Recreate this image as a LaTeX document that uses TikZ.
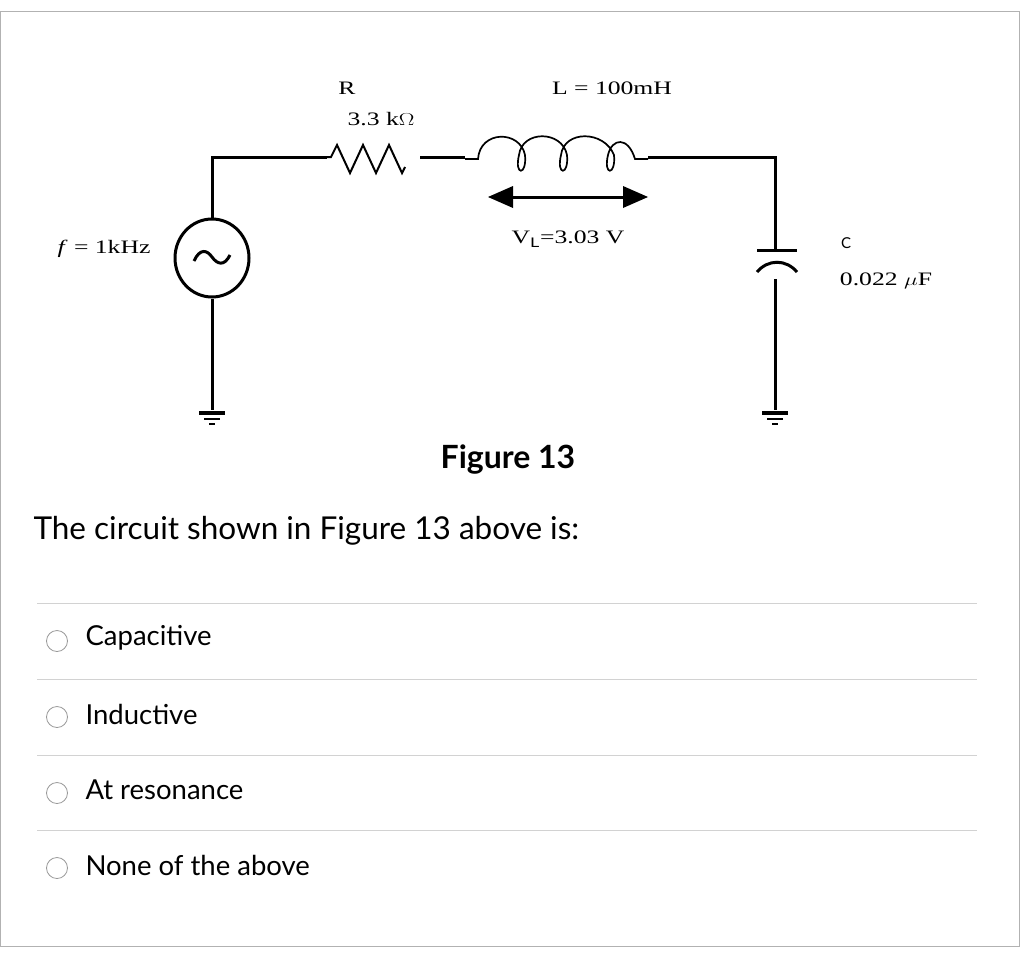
\documentclass[tikz,border=0pt]{standalone}
\usetikzlibrary{shapes.geometric}
\usepackage{fontspec}
\setmainfont{Lato}
\newfontfamily\ser{Liberation Serif}
\newcommand{\wide}[1]{\scalebox{1.35}[1]{#1}}
\begin{document}
\begin{tikzpicture}[x=1pt,y=-1pt,
  w/.style={line width=3pt},
  ct/.style={font=\ser\fontsize{19}{21}\selectfont},
  opt/.style={font=\fontsize{27.5}{30}\selectfont,anchor=west},
  radio/.style={circle,draw=gray!80,line width=0.8pt,minimum size=21pt,inner sep=0pt,fill=white}]
\useasboundingbox (0,0) rectangle (1024,958);
\draw[gray!60,line width=1pt] (0.5,12) -- (1019,12) -- (1019,946) -- (0.5,946) -- cycle;
% source
\node[draw,ellipse,line width=3pt,minimum width=74pt,minimum height=78pt,inner sep=0] (src) at (212,258) {};
\draw[line width=3pt] (194,261) .. controls (200,248) and (207,250) .. (212,257) .. controls (217,264) and (224,267) .. (230,255);
\coordinate (tl) at (212,157);
\coordinate (r1) at (327,157);
\coordinate (tr) at (775,157);
\coordinate (cp1) at (775,250);
\coordinate (g1) at (212,410);
\coordinate (g2) at (775,410);
\draw[w] (src.north) -- (tl) -- (r1);
\draw[line width=2pt] (r1) -- ++(4,0) -- ++(6,-12) -- ++(13,28) -- ++(13,-28) -- ++(13,28) -- ++(13,-28) -- ++(13,28) -- ++(3,-6);
\draw[w] (420,157) -- (465,157);
\draw[line width=1.7pt] (465,159) -- (478,159) .. controls (480,130) and (520,130) .. (525,155) .. controls (527,176) and (514,176) .. (519,155)
  .. controls (522,130) and (562,130) .. (567,155) .. controls (569,176) and (556,176) .. (561,155)
  .. controls (564,130) and (604,130) .. (614,155) .. controls (616,176) and (603,176) .. (608,155)
  .. controls (612,138) and (628,136) .. (635,159) -- (648,159);
\draw[w] (648,157) -- (tr) -- (cp1);
\draw[w] (757,250) -- (797,250);
\draw[w] (757,272) .. controls (768,259) and (786,259) .. (797,272);
\draw[w] (775,279) -- (g2);
\draw[w] (src.south) -- (g1);
\foreach \g in {g1,g2}{
  \draw[line width=3.5pt] ([shift={(-13,3)}]\g) -- ++(26,0);
  \draw[line width=2.5pt] ([shift={(-8,9)}]\g) -- ++(16,0);
  \draw[line width=2pt] ([shift={(-3,14)}]\g) -- ++(6,0);
}
% arrow
\coordinate (a1) at (488,197);
\coordinate (a2) at (648,197);
\draw[line width=3pt] (505,197) -- (632,197);
\fill (a1) -- (513,186) -- (513,208) -- cycle;
\fill (a2) -- (623,186) -- (623,208) -- cycle;
% labels
\node[ct] (lr) at (347,88) {\wide{R}};
\node[ct] (lrv) at (381,119) {\wide{3.3 k$\Omega$}};
\node[ct] (ll) at (612,88) {\wide{L = 100mH}};
\node[ct] (lv) at (568,239) {\wide{V$_\mathrm{L}$=3.03 V}};
\node[ct] (lf) at (104,249) {\wide{\textit{f} = 1kHz}};
\node[font=\fontsize{15}{17}\selectfont] (lc) at (846,243) {C};
\node[ct] (lcv) at (886,281) {\wide{0.022 $\mu$F}};
\node[font=\bfseries\fontsize{32}{36}\selectfont] (fig) at (508,460) {Figure 13};
\node[font=\fontsize{31.5}{36}\selectfont,anchor=west] (q) at (30,531) {The circuit shown in Figure 13 above is:};
\foreach \y in {603,679,755,830} \draw[gray!35,line width=1pt] (37,\y) -- (977,\y);
\node[radio] (c1) at (57,641) {}; \node[opt] (t1) at (82,638) {Capacitive};
\node[radio] (c2) at (57,717) {}; \node[opt] (t2) at (82,714) {Inductive};
\node[radio] (c3) at (57,793) {}; \node[opt] (t3) at (82,790) {At resonance};
\node[radio] (c4) at (57,868) {}; \node[opt] (t4) at (82,865) {None of the above};
\end{tikzpicture}
\end{document}
